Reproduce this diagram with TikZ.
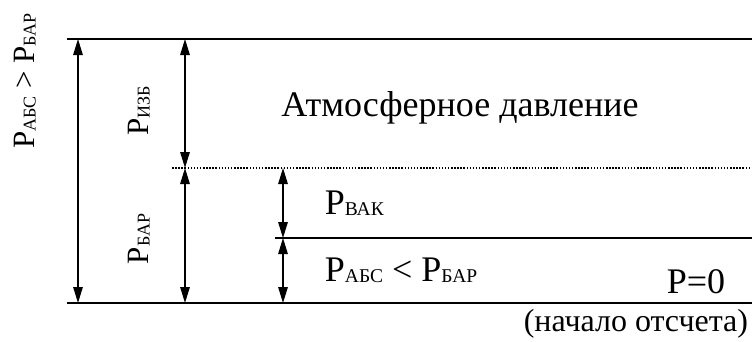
\documentclass[tikz,border=0pt]{standalone}
\usepackage{fontspec}
\setmainfont{Liberation Serif}
\usetikzlibrary{arrows.meta}
\newcommand\lo[1]{\raisebox{-1pt}{\fontsize{18}{18}\selectfont #1}}
\newcommand\loB[1]{\raisebox{-1pt}{\fontsize{19.5}{19.5}\selectfont #1}}
\begin{document}
\begin{tikzpicture}[x=1pt,y=-1pt, line width=1.8pt,
  dim/.style={{Triangle[length=16pt,width=9.5pt]}-{Triangle[length=16pt,width=9.5pt]}, line width=1.5pt},
  lbl/.style={inner sep=0pt, font=\fontsize{31}{31}\selectfont},
  big/.style={inner sep=0pt, font=\fontsize{36}{36}\selectfont},
  mid/.style={inner sep=0pt, font=\fontsize{32}{32}\selectfont}]
\useasboundingbox (0,0) rectangle (752,341);
% levels
\coordinate (tL) at (67,39);   \coordinate (tR) at (752,39);
\coordinate (bL) at (67,303);  \coordinate (bR) at (752,303);
\coordinate (dL) at (172,168); \coordinate (dR) at (752,168);
\coordinate (mL) at (275,238); \coordinate (mR) at (752,238);
\draw (tL) -- (tR);
\draw (bL) -- (bR);
\draw[line width=1.4pt, dash pattern=on 1.5pt off 1.6pt] (dL) -- (dR);
\draw (mL) -- (mR);
% arrow ends
\coordinate (a1t) at (78,39);  \coordinate (a1b) at (78,303);
\coordinate (a2t) at (185,39); \coordinate (a2m) at (185,168); \coordinate (a2b) at (185,303);
\coordinate (a3t) at (283,168); \coordinate (a3m) at (283,238); \coordinate (a3b) at (283,303);
\draw[dim] (a1t) -- (a1b);
\draw[dim] (a2t) -- (a2m);
\draw[dim] (a2m) -- (a2b);
\draw[dim] (a3t) -- (a3m);
\draw[dim] (a3m) -- (a3b);
% labels
\node[lbl, rotate=90] (abs1) at (25,81) {P\lo{АБС} > P\lo{БАР}};
\node[lbl, rotate=90] (izb) at (139,111) {P\lo{ИЗБ}};
\node[lbl, rotate=90] (bar) at (139,239) {P\lo{БАР}};
\node[big, anchor=base] (atm) at (460,116) {Атмосферное давление};
\node[big, anchor=base west] (vak) at (324,214) {P\loB{ВАК}};
\node[big, anchor=base west] (abs2) at (324,281) {P\loB{АБС} < P\loB{БАР}};
\node[big, anchor=base west] (p0) at (666,293) {P=0};
\node[mid, anchor=base east] (start) at (749,331) {(начало отсчета)};
\end{tikzpicture}
\end{document}
